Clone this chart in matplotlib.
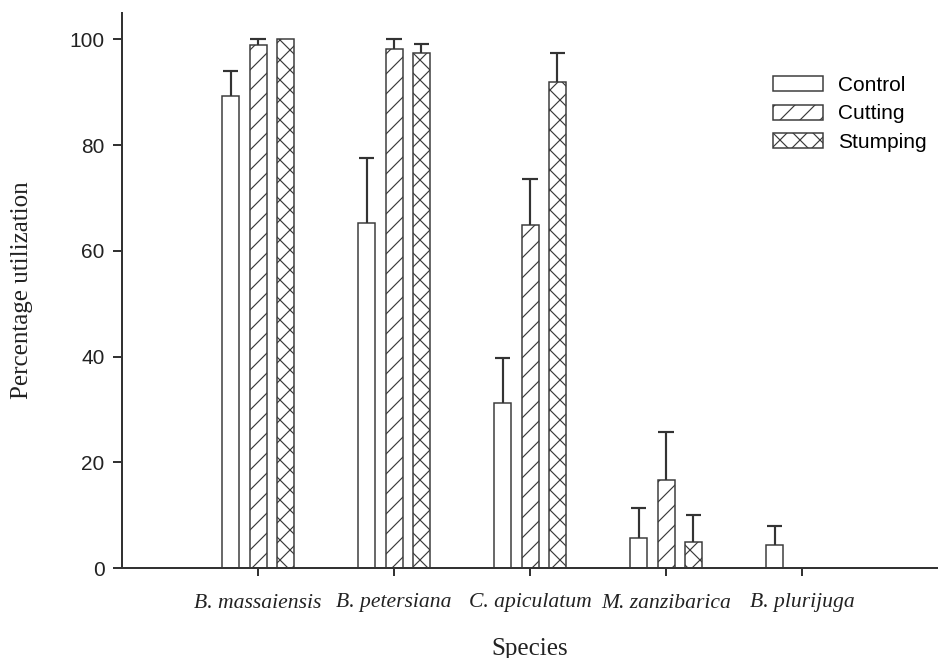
import numpy as np
import matplotlib
matplotlib.use("Agg")
import matplotlib.pyplot as plt
from matplotlib.patches import Patch

species = ["B. massaiensis", "B. petersiana", "C. apiculatum", "M. zanzibarica", "B. plurijuga"]
treatments = ["Control", "Cutting", "Stumping"]
control = [89.3, 65.3, 31.2, 5.7, 4.3]
control_err = [4.7, 12.2, 8.6, 5.7, 3.6]
cutting = [98.9, 98.1, 64.8, 16.7, 0.0]
cutting_err = [1.1, 1.9, 8.8, 9.1, 0.0]
stumping = [100.0, 97.5, 91.9, 5.0, 0.0]
stumping_err = [0.0, 1.7, 5.5, 5.0, 0.0]
y_ticks = [0, 20, 40, 60, 80, 100]

DPI = 120
plt.rcParams["hatch.linewidth"] = 0.7
plt.rcParams["hatch.color"] = "#333333"

fig = plt.figure(figsize=(938 / DPI, 658 / DPI), dpi=DPI)
ax = fig.add_axes([122 / 938, 90 / 658, 1 - 122 / 938, 555 / 658])

edge = "#3a3a3a"
hatches = ["", "//", "xx"]
series = [(control, control_err), (cutting, cutting_err), (stumping, stumping_err)]
x = np.arange(len(species))
width = 0.125
offsets = [-0.2, 0.0, 0.2]

for (vals, errs), off, h, lab in zip(series, offsets, hatches, treatments):
    vals = np.asarray(vals)
    errs = np.asarray(errs)
    m = vals > 0
    ax.bar(x[m] + off, vals[m], width=width, color="white", edgecolor=edge,
           linewidth=0.9, hatch=h, zorder=2)
    me = m & (errs > 0)
    xs = x[me] + off
    ax.vlines(xs, vals[me], vals[me] + errs[me], color="#333333", linewidth=1.3, zorder=3)
    ax.hlines(vals[me] + errs[me], xs - width * 0.45, xs + width * 0.45,
              color="#333333", linewidth=1.3, zorder=3)

ax.set_xlim(-1, 5)
ax.set_ylim(0, 105)
ax.set_yticks(y_ticks)
ax.set_xticks(x)
ax.set_xticklabels(species, fontfamily="Liberation Serif", fontstyle="italic",
                   fontsize=13, color="#222222")
for lbl in ax.get_yticklabels():
    lbl.set_fontfamily("Liberation Sans")
    lbl.set_fontsize(12.5)
    lbl.set_color("#222222")

for s in ["top", "right"]:
    ax.spines[s].set_visible(False)
for s in ["left", "bottom"]:
    ax.spines[s].set_color("#333333")
    ax.spines[s].set_linewidth(1.2)

ax.tick_params(axis="y", direction="out", length=5.4, width=1.2, color="#333333", pad=5)
ax.tick_params(axis="x", direction="out", length=4.8, width=1.2, color="#333333", pad=10.5)

ax.set_xlabel("Species", fontfamily="Liberation Serif", fontsize=15, color="#222222", labelpad=15)
ax.set_ylabel("Percentage utilization", fontfamily="Liberation Serif", fontsize=15,
              color="#222222", labelpad=22)

handles = [Patch(facecolor="white", edgecolor=edge, linewidth=0.9, hatch=h) for h in hatches]
fig.legend(handles, treatments, loc="upper left",
           bbox_to_anchor=(773 / 938, 1 - 76 / 658), frameon=False,
           prop={"family": "Liberation Sans", "size": 12.5},
           handlelength=2.4, handleheight=0.72, handletextpad=0.7,
           labelspacing=0.45, borderpad=0, borderaxespad=0)

fig.savefig("out.png", dpi=DPI)
